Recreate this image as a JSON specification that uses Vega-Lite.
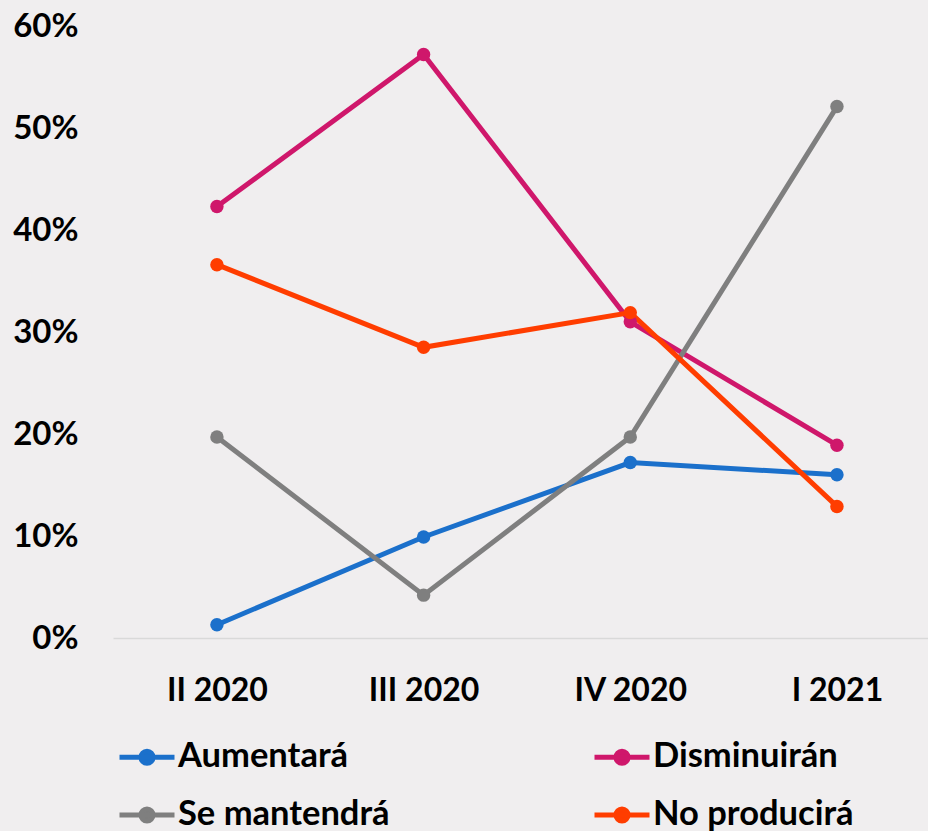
{
  "$schema": "https://vega.github.io/schema/vega-lite/v6.json",
  "width": 815,
  "height": 612,
  "autosize": {"type": "none"},
  "padding": {"left": 113, "top": 26, "right": 0, "bottom": 193},
  "background": "#F0EEEF",
  "config": {
    "view": {"stroke": null},
    "font": "Lato"
  },
  "data": {
    "values": [
      {"periodo": "II 2020", "serie": "Aumentará", "valor": 0.013},
      {"periodo": "III 2020", "serie": "Aumentará", "valor": 0.099},
      {"periodo": "IV 2020", "serie": "Aumentará", "valor": 0.172},
      {"periodo": "I 2021", "serie": "Aumentará", "valor": 0.160},
      {"periodo": "II 2020", "serie": "Disminuirán", "valor": 0.423},
      {"periodo": "III 2020", "serie": "Disminuirán", "valor": 0.572},
      {"periodo": "IV 2020", "serie": "Disminuirán", "valor": 0.310},
      {"periodo": "I 2021", "serie": "Disminuirán", "valor": 0.189},
      {"periodo": "II 2020", "serie": "Se mantendrá", "valor": 0.197},
      {"periodo": "III 2020", "serie": "Se mantendrá", "valor": 0.042},
      {"periodo": "IV 2020", "serie": "Se mantendrá", "valor": 0.197},
      {"periodo": "I 2021", "serie": "Se mantendrá", "valor": 0.521},
      {"periodo": "II 2020", "serie": "No producirá", "valor": 0.366},
      {"periodo": "III 2020", "serie": "No producirá", "valor": 0.285},
      {"periodo": "IV 2020", "serie": "No producirá", "valor": 0.319},
      {"periodo": "I 2021", "serie": "No producirá", "valor": 0.129}
    ]
  },
  "mark": {
    "type": "line",
    "strokeWidth": 5,
    "point": {"filled": true, "size": 180, "opacity": 1}
  },
  "encoding": {
    "x": {
      "field": "periodo",
      "type": "ordinal",
      "sort": ["II 2020", "III 2020", "IV 2020", "I 2021"],
      "scale": {"type": "point", "padding": 0.4717, "align": 0.533},
      "axis": {
        "title": null,
        "labelAngle": 0,
        "labelFont": "Lato",
        "labelFontSize": 32,
        "labelFontWeight": "bold",
        "labelColor": "#000000",
        "labelPadding": 37,
        "ticks": false,
        "domain": true,
        "domainColor": "#D9D9D9",
        "domainWidth": 1.5,
        "grid": false
      }
    },
    "y": {
      "field": "valor",
      "type": "quantitative",
      "scale": {"domain": [0, 0.6], "nice": false, "zero": true},
      "axis": {
        "title": null,
        "format": ".0%",
        "values": [0, 0.1, 0.2, 0.3, 0.4, 0.5, 0.6],
        "labelFont": "Lato",
        "labelFontSize": 33,
        "labelFontWeight": "bold",
        "labelColor": "#000000",
        "labelPadding": 35,
        "ticks": false,
        "domain": false,
        "grid": false
      }
    },
    "color": {
      "field": "serie",
      "type": "nominal",
      "scale": {
        "domain": ["Aumentará", "Disminuirán", "Se mantendrá", "No producirá"],
        "range": ["#1B70CB", "#CF176B", "#7F7F7F", "#FF3D00"]
      },
      "legend": {
        "title": null,
        "orient": "none",
        "legendX": 4,
        "legendY": 701,
        "direction": "horizontal",
        "columns": 2,
        "columnPadding": 194,
        "rowPadding": 11,
        "padding": 0,
        "symbolType": "M-1,0H1M0.22,0A0.22,0.22,0,1,1,-0.22,0A0.22,0.22,0,1,1,0.22,0",
        "symbolSize": 3025,
        "symbolStrokeWidth": 5,
        "labelFont": "Lato",
        "labelFontSize": 34.5,
        "labelFontWeight": "bold",
        "labelColor": "#000000",
        "labelOffset": 1,
        "labelLimit": 400,
        "encode": {
          "symbols": {
            "update": {
              "fill": {"scale": "color", "field": "value"},
              "stroke": {"scale": "color", "field": "value"},
              "strokeWidth": {"value": 5},
              "opacity": {"value": 1}
            }
          }
        }
      }
    }
  }
}
